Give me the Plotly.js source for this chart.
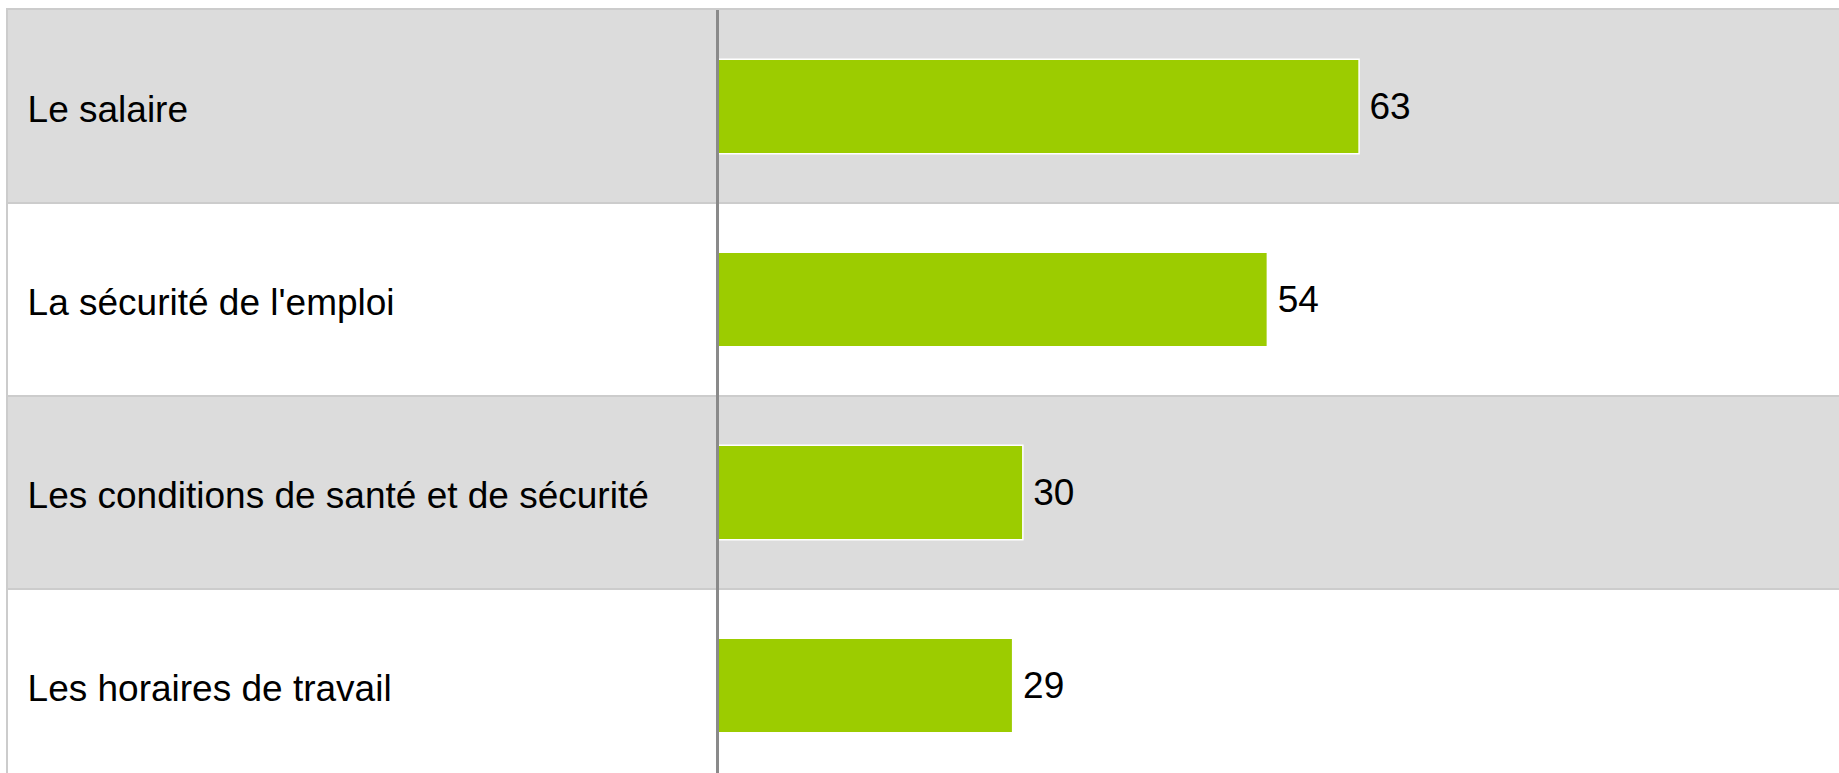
<!DOCTYPE html>
<html>
<head>
<meta charset="utf-8">
<script src="https://cdn.plot.ly/plotly-3.0.1.min.js"></script>
<style>
  html, body { margin: 0; padding: 0; background: #fff; }
  #chart { width: 1839px; height: 773px; }
</style>
</head>
<body>
<div id="chart"></div>
<script>
// categories, top to bottom
var categories = ["Le salaire", "La sécurité de l'emploi",
                  "Les conditions de santé et de sécurité", "Les horaires de travail"];
var values = [63, 54, 30, 29];

var rowGray = '#dcdcdc';
var rowLine = '#cccccc';

// striped rows, one per category (every other row grey)
var shapes = [];
for (var i = 0; i < categories.length; i++) {
  if (i % 2 == 0) {
    shapes.push({type: 'rect', layer: 'below', xref: 'paper', yref: 'y',
                 x0: 0, x1: 1, y0: i - 0.5, y1: i + 0.5,
                 fillcolor: rowGray, line: {width: 0}});
  }
}

var trace = {
  type: 'bar',
  orientation: 'h',
  y: categories,
  x: values,
  width: 0.49,
  marker: {color: '#9ccc00', line: {color: '#ffffff', width: 1.5}},
  text: values.map(function (v) { return String(v); }),
  texttemplate: '\u2009%{text}',
  textposition: 'outside',
  constraintext: 'none',
  cliponaxis: false,
  textfont: {family: 'Liberation Sans, Arial, sans-serif', size: 37, color: '#000'},
  hoverinfo: 'none'
};

var layout = {
  width: 1839, height: 773,
  margin: {l: 8, r: 0, t: 10, b: 0, pad: 0},
  paper_bgcolor: '#ffffff',
  plot_bgcolor: '#ffffff',
  showlegend: false,
  font: {family: 'Liberation Sans, Arial, sans-serif', size: 37, color: '#000'},
  xaxis: {
    range: [-69.6, 110.1],
    side: 'top',
    showgrid: false,
    showticklabels: false,
    ticks: '',
    showline: true, linecolor: rowLine, linewidth: 2,
    zeroline: true, zerolinecolor: '#8a8a8a', zerolinewidth: 3,
    zerolinelayer: 'above traces',
    fixedrange: true
  },
  yaxis: {
    type: 'category',
    range: [-0.5 + 763 / 193, -0.5],
    tickson: 'boundaries',
    ticks: '',
    showgrid: true, gridcolor: rowLine, gridwidth: 2,
    showline: true, linecolor: rowLine, linewidth: 2,
    ticklabelposition: 'inside',
    ticklabelstandoff: 24,
    ticklabelshift: -3,
    tickfont: {family: 'Liberation Sans, Arial, sans-serif', size: 37, color: '#000'},
    zeroline: false,
    fixedrange: true
  },
  shapes: shapes
};

Plotly.newPlot('chart', [trace], layout, {displayModeBar: false, staticPlot: true});
</script>
</body>
</html>
